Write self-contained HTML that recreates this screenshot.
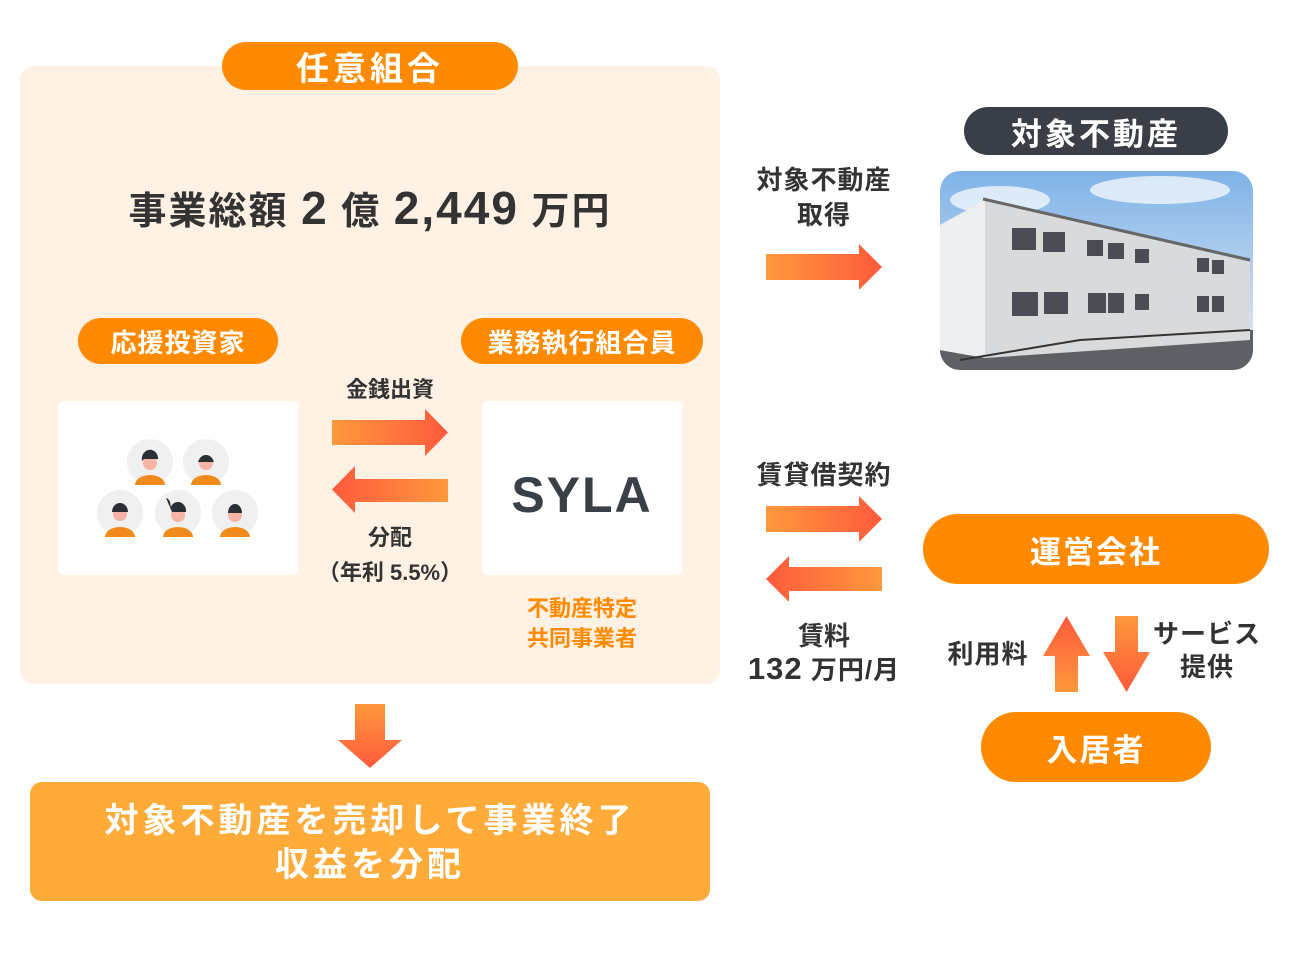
<!DOCTYPE html>
<html><head><meta charset="utf-8"><style>
body{margin:0;width:1296px;height:972px;background:#fff;position:relative;overflow:hidden;font-family:"Liberation Sans","Noto Sans CJK JP",sans-serif;color:#333;}
.a{position:absolute;}
.pill{position:absolute;border-radius:30px;color:#fff;font-weight:bold;display:flex;align-items:center;justify-content:center;}
.t{position:absolute;text-align:center;font-weight:bold;white-space:nowrap;}
</style></head><body>
<div class="a" style="left:20px;top:66px;width:700px;height:618px;background:#fff2e4;border-radius:14px"></div>
<div class="pill" style="left:222px;top:42px;width:296px;height:48px;background:#ff8a00;font-size:33px;letter-spacing:4px">任意組合</div>
<div class="t" style="left:20px;width:700px;top:180px;font-size:38px;color:#333;letter-spacing:2px">事業総額 <span style="font-size:46px">2</span> 億 <span style="font-size:46px">2,449</span> 万円</div>
<div class="pill" style="left:78px;top:318px;width:200px;height:46px;background:#ff8a00;font-size:26px;letter-spacing:1px">応援投資家</div>
<div class="pill" style="left:461px;top:318px;width:242px;height:46px;background:#ff8a00;font-size:26px;letter-spacing:1px">業務執行組合員</div>
<div class="a" style="left:58px;top:401px;width:240px;height:174px;background:#fff;border-radius:6px"></div>
<div class="a" style="left:482px;top:401px;width:200px;height:174px;background:#fff;border-radius:6px"></div>
<div class="t" style="left:482px;width:200px;top:466px;font-size:50px;font-weight:900;color:#3a4048;letter-spacing:2px">SYLA</div>
<svg class="a" style="left:0;top:0" width="1296" height="972">
<defs>
<linearGradient id="gr" x1="0" x2="1"><stop offset="0" stop-color="#ff983c"/><stop offset="1" stop-color="#ff5a3c"/></linearGradient>
<linearGradient id="gl" x1="1" x2="0"><stop offset="0" stop-color="#ff983c"/><stop offset="1" stop-color="#ff5a3c"/></linearGradient>
<linearGradient id="gd" x1="0" y1="0" x2="0" y2="1"><stop offset="0" stop-color="#ff983c"/><stop offset="1" stop-color="#ff5a3c"/></linearGradient>
<linearGradient id="gu" x1="0" y1="1" x2="0" y2="0"><stop offset="0" stop-color="#ff983c"/><stop offset="1" stop-color="#ff5a3c"/></linearGradient>
<linearGradient id="sky" x1="0" y1="0" x2="0" y2="1"><stop offset="0" stop-color="#7fb3e8"/><stop offset="1" stop-color="#e8eef5"/></linearGradient>
<clipPath id="pc"><rect x="940" y="171" width="313" height="199" rx="20"/></clipPath>
</defs>
<g>
<circle cx="150" cy="462" r="23" fill="#f0f0f0"/><circle cx="206" cy="462" r="23" fill="#f0f0f0"/>
<circle cx="120" cy="513" r="23" fill="#f0f0f0"/><circle cx="178" cy="513" r="23" fill="#f0f0f0"/><circle cx="235" cy="513" r="23" fill="#f0f0f0"/>
<g fill="#f08a1c"><path d="M135 485a15 10 0 0 1 30 0z"/><path d="M191 485a15 10 0 0 1 30 0z"/><path d="M105 537a15 10 0 0 1 30 0z"/><path d="M163 537a15 10 0 0 1 30 0z"/><path d="M220 537a15 10 0 0 1 30 0z"/></g>
<g fill="#f6b3a6"><circle cx="150" cy="463" r="7"/><circle cx="206" cy="463" r="7"/><circle cx="120" cy="514" r="7"/><circle cx="178" cy="515" r="7"/><circle cx="235" cy="515" r="7"/></g>
<g fill="#2a2e35"><path d="M142 461a8 9 0 0 1 16 -4v2h-14z"/><path d="M198 464a8 9 0 0 1 16 0v-2h-16z"/><path d="M112 512a8 9 0 0 1 16 0h-16z"/><path d="M166 498a5 8 0 0 1 4 12a8 9 0 0 1 16 2h-14z"/><path d="M228 513a7 9 0 0 1 14 0h-14z"/></g>
</g>
<path d="M332 420h93v-11l23 23.5l-23 23.5v-11h-93z" fill="url(#gr)"/>
<path d="M448 479h-93v-13l-23 23.5l23 23.5v-11h93z" fill="url(#gl)"/>
<path d="M355 704h30v36h17l-32 28l-32 -28h17z" fill="url(#gd)"/>
<path d="M766 254h93v-10l23 23l-23 23v-10h-93z" fill="url(#gr)"/>
<path d="M766 506h93v-10l23 23l-23 23v-10h-93z" fill="url(#gr)"/>
<path d="M882 567h-93v-11l-23 23l23 23v-11h93z" fill="url(#gl)"/>
<path d="M1055 692v-36h-12l23.5 -40l23.5 40h-12v36z" fill="url(#gu)"/>
<path d="M1115 616h23v36h12l-23.5 40l-23.5 -40h12z" fill="url(#gd)"/>
<g clip-path="url(#pc)">
<rect x="940" y="171" width="313" height="199" fill="url(#sky)"/>
<ellipse cx="1000" cy="200" rx="50" ry="14" fill="#fff" opacity=".7"/><ellipse cx="1160" cy="190" rx="70" ry="14" fill="#fff" opacity=".7"/>
<rect x="940" y="330" width="313" height="40" fill="#5d6166"/>
<path d="M940 225L985 200L1250 262V340L985 358L940 350Z" fill="#d8dadc"/>
<path d="M940 225L985 200V358L940 350Z" fill="#eceeef"/>
<path d="M983 199L1250 260" stroke="#666" stroke-width="3"/>
<g fill="#4a4e54">
<rect x="1012" y="228" width="24" height="22"/><rect x="1043" y="232" width="22" height="20"/><rect x="1087" y="240" width="16" height="16"/><rect x="1108" y="243" width="16" height="16"/><rect x="1135" y="249" width="14" height="14"/><rect x="1197" y="258" width="12" height="14"/><rect x="1212" y="260" width="12" height="14"/>
<rect x="1012" y="292" width="26" height="24"/><rect x="1044" y="292" width="24" height="22"/><rect x="1088" y="293" width="18" height="20"/><rect x="1108" y="293" width="16" height="20"/><rect x="1135" y="294" width="14" height="16"/><rect x="1197" y="296" width="12" height="16"/><rect x="1212" y="296" width="12" height="16"/>
</g>
<path d="M960 360L1080 340L1250 330" stroke="#333" stroke-width="2" fill="none"/>
</g>
</svg>
<div class="t" style="left:300px;width:180px;top:372px;font-size:22px">金銭出資</div>
<div class="t" style="left:300px;width:180px;top:520px;font-size:22px">分配</div>
<div class="t" style="left:300px;width:180px;top:555px;font-size:22px">（年利 5.5%）</div>
<div class="t" style="left:482px;width:200px;top:594px;font-size:22px;color:#ff8a00;line-height:30px">不動産特定<br>共同事業者</div>
<div class="a" style="left:30px;top:782px;width:680px;height:119px;background:#ffab3a;border-radius:12px"></div>
<div class="t" style="left:30px;width:680px;top:799px;font-size:34px;color:#fff;line-height:44px;letter-spacing:4px">対象不動産を売却して事業終了<br>収益を分配</div>
<div class="pill" style="left:964px;top:107px;width:264px;height:48px;background:#3a3f47;font-size:31px;letter-spacing:3px">対象不動産</div>
<div class="t" style="left:734px;width:180px;top:163px;font-size:26px;line-height:35px;letter-spacing:1px">対象不動産<br>取得</div>
<div class="t" style="left:734px;width:180px;top:455px;font-size:26px;letter-spacing:1px">賃貸借契約</div>
<div class="t" style="left:734px;width:180px;top:616px;font-size:26px">賃料</div>
<div class="t" style="left:724px;width:200px;top:650px;font-size:26px;letter-spacing:1px"><span style="font-size:31px">132</span> 万円/月</div>
<div class="pill" style="left:923px;top:514px;width:346px;height:70px;background:#ff8a00;font-size:31px;border-radius:35px;letter-spacing:2px">運営会社</div>
<div class="pill" style="left:981px;top:712px;width:230px;height:70px;background:#ff8a00;font-size:31px;border-radius:35px;letter-spacing:2px">入居者</div>
<div class="t" style="left:928px;width:120px;top:634px;font-size:26px;letter-spacing:1px">利用料</div>
<div class="t" style="left:1142px;width:130px;top:618px;font-size:26px;line-height:33px;letter-spacing:1px">サービス<br>提供</div>
</body></html>
